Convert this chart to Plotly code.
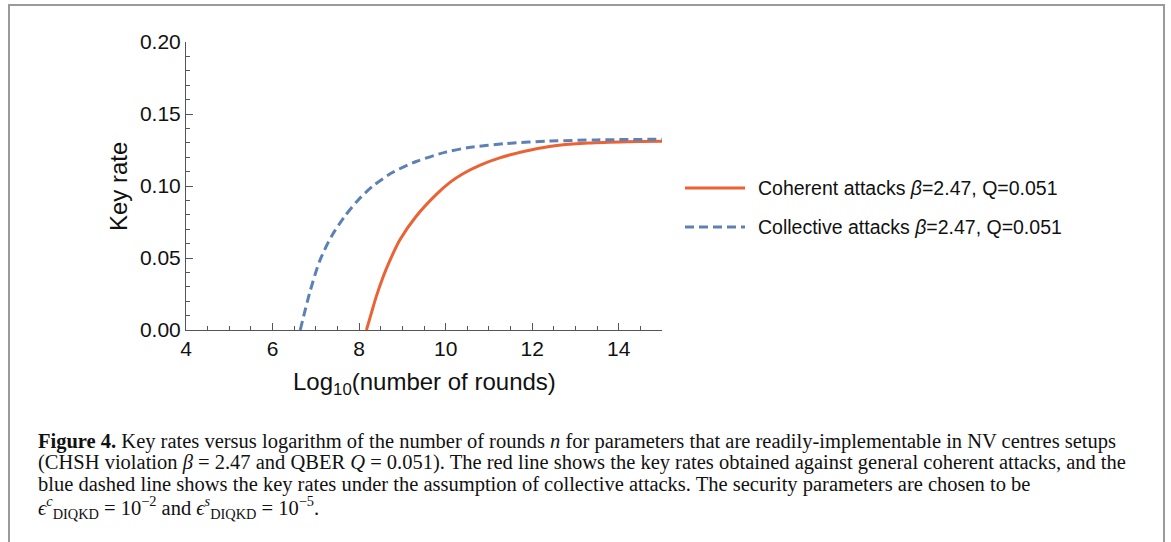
import plotly.graph_objects as go

# ---------------- data ----------------
coherent_x = [8.17, 8.30, 8.40, 8.55, 8.70, 8.94, 9.32, 9.78, 10.1, 10.4, 10.8, 11.25, 11.8, 12.4, 13.3, 14.2, 15.0]
coherent_y = [0.0, 0.0135, 0.0235, 0.0365, 0.0475, 0.0625, 0.079, 0.094, 0.1025, 0.1085, 0.1145, 0.1195, 0.124,
              0.1275, 0.1298, 0.1307, 0.131]

collective_x = [6.64, 6.86, 7.09, 7.36, 7.67, 7.97, 8.32, 8.78, 9.32, 10.0, 10.5, 11.4, 12.4, 13.5, 15.0]
collective_y = [0.0, 0.026, 0.048, 0.065, 0.079, 0.090, 0.100, 0.1095, 0.117, 0.1235, 0.1265, 0.1295, 0.1312, 0.132, 0.1325]

series_names = ["Coherent attacks <i>β</i>=2.47, Q=0.051",
                "Collective attacks <i>β</i>=2.47, Q=0.051"]
series_colors = ["#EB6235", "#5E81B5"]

x_tickvals = [4, 6, 8, 10, 12, 14]
y_tickvals = [0.0, 0.05, 0.10, 0.15, 0.20]
y_ticktext = ["0.00", "0.05", "0.10", "0.15", "0.20"]

caption_lines = [
    "<b>Figure 4.</b> Key rates versus logarithm of the number of rounds <i>n</i> for parameters that are readily-implementable in NV centres setups",
    "(CHSH violation <i>β</i> = 2.47 and QBER <i>Q</i> = 0.051). The red line shows the key rates obtained against general coherent attacks, and the",
    "blue dashed line shows the key rates under the assumption of collective attacks. The security parameters are chosen to be",
    "<i>ϵ</i><sup><i>c</i></sup><sub>DIQKD</sub> = 10<sup>−2</sup> and <i>ϵ</i><sup><i>s</i></sup><sub>DIQKD</sub> = 10<sup>−5</sup>.",
]

# ---------------- layout geometry ----------------
W, H = 1171, 542
L, R, T, B = 186, 662, 42, 330  # plot area in pixels


def px(xp):
    return (xp - L) / (R - L)


def py(yp):
    return (B - yp) / (B - T)


fig = go.Figure()
fig.add_trace(go.Scatter(x=coherent_x, y=coherent_y, mode="lines", name=series_names[0],
                         line=dict(color=series_colors[0], width=3, shape="spline", smoothing=0.8),
                         showlegend=False))
fig.add_trace(go.Scatter(x=collective_x, y=collective_y, mode="lines", name=series_names[1],
                         line=dict(color=series_colors[1], width=3, dash="9px,5px", shape="spline", smoothing=0.8),
                         showlegend=False))

axis_color = "#555555"
sans = "Liberation Sans, Arial, sans-serif"
tick_font = dict(family=sans, size=21, color="#111111")

fig.update_xaxes(range=[4, 15], tickvals=x_tickvals, ticks="inside", ticklen=7, tickcolor=axis_color,
                 showline=True, linecolor=axis_color, linewidth=1, showgrid=False, zeroline=False,
                 tickfont=tick_font, ticklabelstandoff=0,
                 minor=dict(ticks="inside", ticklen=4, dtick=0.5, tick0=4, tickcolor=axis_color, showgrid=False))
fig.update_yaxes(range=[0, 0.2], tickvals=y_tickvals, ticktext=y_ticktext, ticks="inside", ticklen=7,
                 tickcolor=axis_color, showline=True, linecolor=axis_color, linewidth=1, showgrid=False,
                 zeroline=False, tickfont=tick_font, ticklabelstandoff=0,
                 minor=dict(ticks="inside", ticklen=4, dtick=0.01, tick0=0, tickcolor=axis_color, showgrid=False))

annotations = []
# axis titles
annotations.append(dict(text="Log<sub>10</sub>(number of rounds)", x=px(424), y=py(383), xref="paper", yref="paper",
                        showarrow=False, xanchor="center", yanchor="middle",
                        font=dict(family=sans, size=24, color="#111111")))
annotations.append(dict(text="Key rate", x=px(118), y=py(187), xref="paper", yref="paper", textangle=-90,
                        showarrow=False, xanchor="center", yanchor="middle",
                        font=dict(family=sans, size=24, color="#111111")))

# legend (manual, Mathematica style)
shapes = []
legend_y = [188, 227]
dashes = ["solid", "9px,5px"]
for name, color, ly, dsh in zip(series_names, series_colors, legend_y, dashes):
    shapes.append(dict(type="line", xref="paper", yref="paper", x0=px(685), x1=px(745), y0=py(ly), y1=py(ly),
                       line=dict(color=color, width=3, dash=dsh)))
    annotations.append(dict(text=name, x=px(756), y=py(ly), xref="paper", yref="paper", showarrow=False,
                            xanchor="left", yanchor="middle",
                            font=dict(family=sans, size=19.5, color="#111111")))

# caption
caption_y = [441, 462, 484, 507]
for line, cy in zip(caption_lines, caption_y):
    annotations.append(dict(text=line, x=px(36), y=py(cy), xref="paper", yref="paper", showarrow=False,
                            xanchor="left", yanchor="middle",
                            font=dict(family="Liberation Serif, Times New Roman, serif", size=20.5, color="#111111")))

# figure frame
shapes.append(dict(type="rect", xref="paper", yref="paper", x0=px(9), x1=px(1164), y0=py(5), y1=py(600),
                   line=dict(color="#9a9a9a", width=2), fillcolor="rgba(0,0,0,0)", layer="below"))

fig.update_layout(width=W, height=H, margin=dict(l=L, r=W - R, t=T, b=H - B),
                  paper_bgcolor="white", plot_bgcolor="white", showlegend=False,
                  annotations=annotations, shapes=shapes)

fig.write_html("out.html", config={"displayModeBar": False},
               post_script="document.body.style.margin='0px'; document.body.style.overflow='hidden';")
